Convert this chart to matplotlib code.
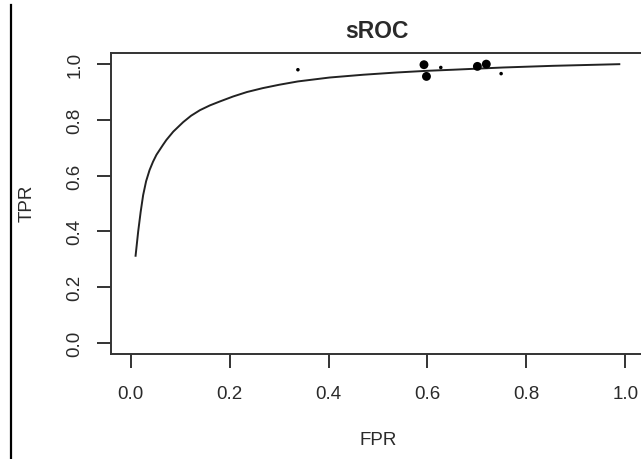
import matplotlib
matplotlib.use("Agg")
import matplotlib.pyplot as plt
from matplotlib.lines import Line2D

# Study-level (FPR, TPR) pairs and their relative weights
study_fpr = [0.338, 0.593, 0.598, 0.627, 0.701, 0.719, 0.749]
study_tpr = [0.980, 0.998, 0.956, 0.988, 0.992, 1.000, 0.966]
study_weight = [0.4, 1.0, 1.0, 0.4, 1.0, 1.0, 0.4]

# Fitted summary ROC curve
curve_fpr = [0.0095, 0.015, 0.020, 0.025, 0.031, 0.038, 0.045, 0.052, 0.065,
             0.072, 0.086, 0.106, 0.122, 0.140, 0.160, 0.180, 0.207, 0.235,
             0.267, 0.300, 0.338, 0.402, 0.470, 0.537, 0.598, 0.652, 0.753,
             0.854, 0.990]
curve_tpr = [0.309, 0.400, 0.470, 0.530, 0.580, 0.620, 0.650, 0.675, 0.710,
             0.728, 0.758, 0.792, 0.815, 0.835, 0.852, 0.866, 0.884, 0.900,
             0.914, 0.926, 0.938, 0.952, 0.962, 0.970, 0.976, 0.980, 0.988,
             0.994, 1.000]

ticks = [0.0, 0.2, 0.4, 0.6, 0.8, 1.0]
tick_labels = ["0.0", "0.2", "0.4", "0.6", "0.8", "1.0"]

plt.rcParams["font.family"] = ["Liberation Sans", "DejaVu Sans"]
text_color = "#2a2a2a"
frame_color = "#333333"

W, H = 641, 460
fig = plt.figure(figsize=(W / 100, H / 100), dpi=100)
ax = fig.add_axes([111 / W, (H - 355) / H, (645 - 111) / W, (355 - 54) / H])

ax.plot(curve_fpr, curve_tpr, color="#222222", lw=1.4,
        solid_joinstyle="round", solid_capstyle="butt")
ax.scatter(study_fpr, study_tpr, s=[(6.4 * w) ** 2 for w in study_weight],
           color="black", linewidths=0, zorder=3)

ax.set_xlim(-0.04, 1.04)
ax.set_ylim(-0.04, 1.04)
ax.set_xticks(ticks)
ax.set_xticklabels(tick_labels)
ax.set_yticks(ticks)
ax.set_yticklabels(tick_labels, rotation=90, va="center")

for sp in ax.spines.values():
    sp.set_color(frame_color)
    sp.set_linewidth(1.4)

ax.tick_params(axis="both", direction="out", length=10, width=1.4,
               color=frame_color, labelsize=13.5, labelcolor=text_color)
ax.tick_params(axis="x", pad=12)
ax.tick_params(axis="y", pad=10)

fig.text(377 / W, (H - 31) / H, "sROC", ha="center", va="center",
         fontsize=16.5, fontweight="bold", color=text_color)
fig.text(378 / W, (H - 441) / H, "FPR", ha="center", va="center",
         fontsize=13.5, color=text_color)
fig.text(27 / W, (H - 203) / H, "TPR", ha="center", va="center",
         rotation=90, fontsize=13.5, color=text_color)

# vertical rule along the left edge
fig.add_artist(Line2D([10.5 / W, 10.5 / W], [0, (H - 6) / H],
                      transform=fig.transFigure, color="black", lw=1.6))

fig.savefig("out.png", dpi=100)
